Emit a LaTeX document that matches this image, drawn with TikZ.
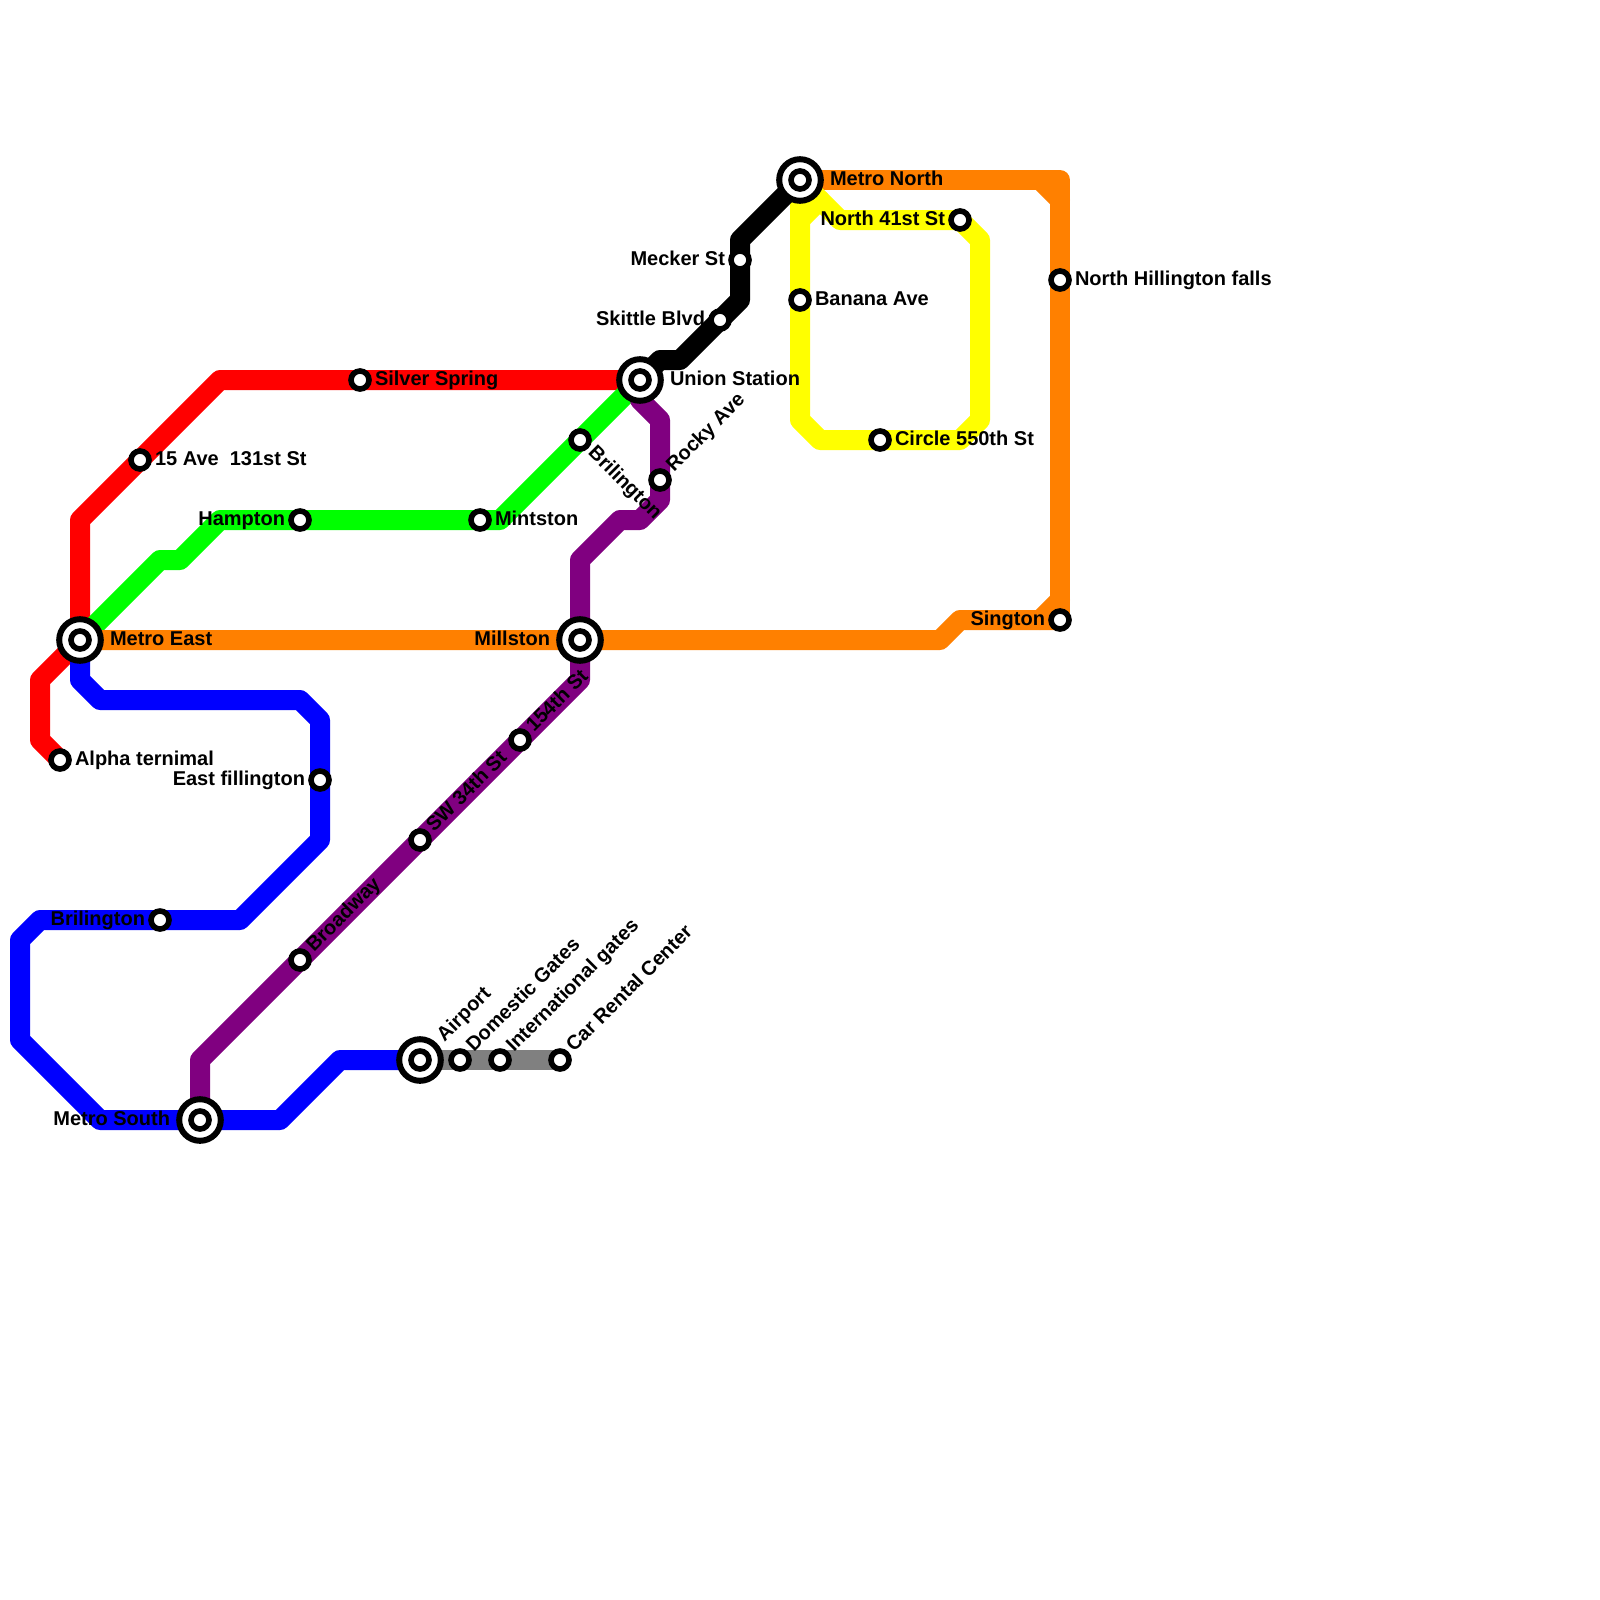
\documentclass[tikz,border=0pt]{standalone}
\usepackage{fontspec}
\setmainfont{Liberation Sans}
\usetikzlibrary{calc}
\definecolor{mred}{HTML}{FF0000}
\definecolor{mgreen}{HTML}{00FF00}
\definecolor{mblue}{HTML}{0000FF}
\definecolor{morange}{HTML}{FF8000}
\definecolor{mpurple}{HTML}{800080}
\definecolor{myellow}{HTML}{FFFF00}
\definecolor{mgray}{HTML}{808080}
\tikzset{
  metroline/.style={draw=#1,line width=20pt,line join=round,line cap=round},
  stn/.style={circle,draw=black,fill=white,line width=5.6pt,minimum size=18pt,inner sep=0pt,outer sep=0pt},
  hub/.style={circle,draw=black,fill=white,line width=6pt,minimum size=41.6pt,inner sep=0pt,outer sep=0pt},
  lab/.style={font=\bfseries\fontsize{20}{24}\selectfont,inner sep=0pt,outer sep=0pt},
  labr/.style={lab,anchor=base west},
  labl/.style={lab,anchor=base east},
  labu/.style={lab,anchor=base west,rotate=45},
  labd/.style={lab,anchor=base west,rotate=-45},
}
\begin{document}
\begin{tikzpicture}[x=1pt,y=-1pt]
\useasboundingbox (0,0) rectangle (1600,1600);
\fill[white] (0,0) rectangle (1600,1600);
% stations positions
\coordinate (cAlpha) at (60,760);
\coordinate (cAve) at (140,460);
\coordinate (cSilver) at (360,380);
\coordinate (cEast) at (80,640);
\coordinate (cUnion) at (640,380);
\coordinate (cNorth) at (800,180);
\coordinate (cMill) at (580,640);
\coordinate (cSouth) at (200,1120);
\coordinate (cAir) at (420,1060);
\coordinate (cHamp) at (300,520);
\coordinate (cMint) at (480,520);
\coordinate (cBril) at (580,440);
\coordinate (cRocky) at (660,480);
\coordinate (cMeck) at (740,260);
\coordinate (cSkit) at (720,320);
\coordinate (cBan) at (800,300);
\coordinate (c41) at (960,220);
\coordinate (c550) at (880,440);
\coordinate (cHill) at (1060,280);
\coordinate (cSing) at (1060,620);
\coordinate (cFill) at (320,780);
\coordinate (cBrilB) at (160,920);
\coordinate (c154) at (520,740);
\coordinate (c34) at (420,840);
\coordinate (cBroad) at (300,960);
\coordinate (cDom) at (460,1060);
\coordinate (cInt) at (500,1060);
\coordinate (cCar) at (560,1060);
% lines
\draw[metroline=mred] (cAlpha) -- (40,740) -- (40,680) -- (cEast) -- (80,520) -- (220,380) -- (cUnion);
\draw[metroline=mgreen] (cEast) -- (160,560) -- (180,560) -- (220,520) -- (500,520) -- (cUnion);
\draw[metroline=morange] (cEast) -- (940,640) -- (960,620) -- (cSing);
\draw[metroline=morange] (cNorth) -- (1060,180) -- (cSing);
\draw[metroline=morange] (1040,180) -- (1060,200);
\draw[metroline=morange] (1060,600) -- (1040,620);
\draw[metroline=mblue] (cEast) -- (80,680) -- (100,700) -- (300,700) -- (320,720) -- (320,840) -- (240,920) -- (40,920) -- (20,940) -- (20,1040) -- (100,1120) -- (280,1120) -- (340,1060) -- (cAir);
\draw[metroline=mpurple] (cSouth) -- (200,1060) -- (580,680) -- (580,560) -- (620,520) -- (640,520) -- (660,500) -- (660,420) -- (640,400) -- (cUnion);
\draw[metroline=myellow] (cNorth) -- (840,220) -- (960,220) -- (980,240) -- (980,420) -- (960,440) -- (820,440) -- (800,420) -- cycle;
\draw[metroline=myellow] (800,220) -- (820,200);
\draw[metroline=black] (cUnion) -- (660,360) -- (680,360) -- (740,300) -- (740,240) -- (cNorth);
\draw[metroline=mgray] (cAir) -- (cCar);
% stations
\foreach \n in {Alpha,Ave,Silver,Hamp,Mint,Bril,Rocky,Meck,Skit,Ban,41,550,Hill,Sing,Fill,BrilB,154,34,Broad,Dom,Int,Car}
  \node[stn] (s\n) at (c\n) {};
\foreach \n in {East,Union,North,Mill,South,Air}{
  \node[hub] (h\n) at (c\n) {};
  \node[stn] (s\n) at (c\n) {};
}
% labels
\node[labr] (tAlpha) at ($(cAlpha)+(15,5)$) {Alpha ternimal};
\node[labr] (tAve) at ($(cAve)+(15,5)$) {15 Ave\ \ 131st St};
\node[labr] (tSilver) at ($(cSilver)+(15,5)$) {Silver Spring};
\node[labr] (tMint) at ($(cMint)+(15,5)$) {Mintston};
\node[labr] (tBan) at ($(cBan)+(15,5)$) {Banana Ave};
\node[labr] (t550) at ($(c550)+(15,5)$) {Circle 550th St};
\node[labr] (tHill) at ($(cHill)+(15,5)$) {North Hillington falls};
\node[labr] (tEast) at ($(cEast)+(30,5)$) {Metro East};
\node[labr] (tUnion) at ($(cUnion)+(30,5)$) {Union Station};
\node[labr] (tNorth) at ($(cNorth)+(30,5)$) {Metro North};
\node[labl] (tHamp) at ($(cHamp)+(-15,5)$) {Hampton};
\node[labl] (tMeck) at ($(cMeck)+(-15,5)$) {Mecker St};
\node[labl] (tSkit) at ($(cSkit)+(-15,5)$) {Skittle Blvd};
\node[labl] (t41) at ($(c41)+(-15,5)$) {North 41st St};
\node[labl] (tSing) at ($(cSing)+(-15,5)$) {Sington};
\node[labl] (tFill) at ($(cFill)+(-15,5)$) {East fillington};
\node[labl] (tBrilB) at ($(cBrilB)+(-15,5)$) {Brilington};
\node[labl] (tMill) at ($(cMill)+(-30,5)$) {Millston};
\node[labl] (tSouth) at ($(cSouth)+(-30,5)$) {Metro South};
\node[labd] (tBril) at ($(cBril)+(7.4,13.8)$) {Brilington};
\node[labu] (tRocky) at ($(cRocky)+(14,-7.2)$) {Rocky Ave};
\node[labu] (t154) at ($(c154)+(14,-7.2)$) {154th St};
\node[labu] (t34) at ($(c34)+(14,-7.2)$) {SW 34th St};
\node[labu] (tBroad) at ($(cBroad)+(14,-7.2)$) {Broadway};
\node[labu] (tDom) at ($(cDom)+(14,-7.2)$) {Domestic Gates};
\node[labu] (tInt) at ($(cInt)+(14,-7.2)$) {International gates};
\node[labu] (tCar) at ($(cCar)+(14,-7.2)$) {Car Rental Center};
\node[labu] (tAir) at ($(cAir)+(24.6,-17.8)$) {Airport};
\end{tikzpicture}
\end{document}
